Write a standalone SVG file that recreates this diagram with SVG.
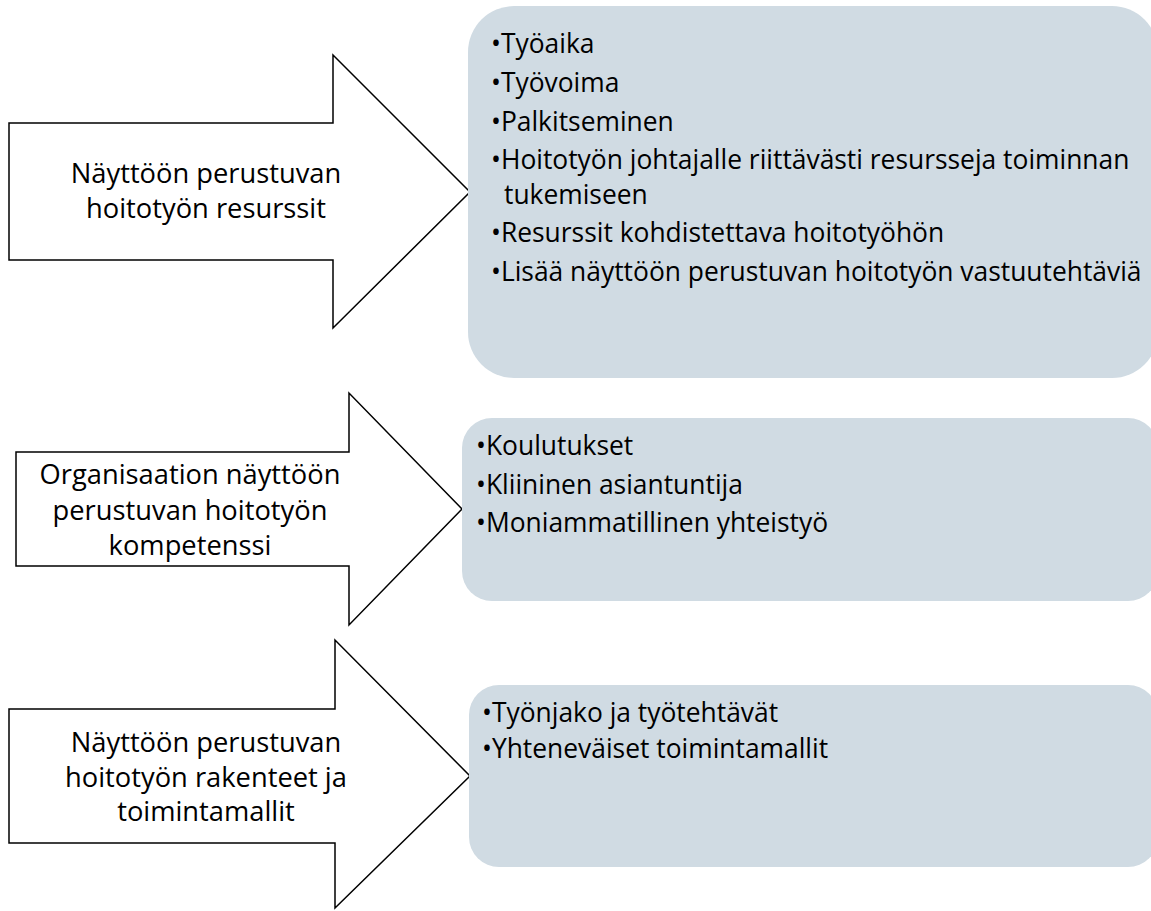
<svg xmlns="http://www.w3.org/2000/svg" width="1151" height="911" viewBox="0 0 1151 911">
<style>
.arrow{fill:#fff;stroke:#000;stroke-width:1.5;stroke-linejoin:miter}
.box{fill:#D0DBE3}
.lbl{font-family:"Open Sans","Noto Sans",sans-serif;font-size:27.3px;fill:#000;text-anchor:middle}
.item{font-family:"Open Sans","Noto Sans",sans-serif;font-size:26.4px;fill:#000}
</style>
<rect width="1151" height="911" fill="#fff"/>
<g id="connectors"></g>
<g id="arrow1">
<polygon class="arrow" points="9,123 333,123 333,55 470,192 333,328 333,260 9,260"/>
<text class="lbl" x="206" y="183">Näyttöön perustuvan</text>
<text class="lbl" x="206" y="218">hoitotyön resurssit</text>
</g>
<g id="box1">
<rect class="box" x="468" y="6" width="690" height="372" rx="46"/>
<text class="item" x="491" y="53">•Työaika</text>
<text class="item" x="491" y="92">•Työvoima</text>
<text class="item" x="491" y="130.5">•Palkitseminen</text>
<text class="item" x="491" y="169">•Hoitotyön johtajalle riittävästi resursseja toiminnan</text>
<text class="item" x="504" y="203.5">tukemiseen</text>
<text class="item" x="491" y="242">•Resurssit kohdistettava hoitotyöhön</text>
<text class="item" x="491" y="281">•Lisää näyttöön perustuvan hoitotyön vastuutehtäviä</text>
</g>
<g id="arrow2">
<polygon class="arrow" points="16,452 349,452 349,393 462,509 349,625 349,566 16,566"/>
<text class="lbl" x="190" y="484">Organisaation näyttöön</text>
<text class="lbl" x="190" y="520">perustuvan hoitotyön</text>
<text class="lbl" x="190" y="555">kompetenssi</text>
</g>
<g id="box2">
<rect class="box" x="462" y="418" width="696" height="183" rx="30"/>
<text class="item" x="476" y="455">•Koulutukset</text>
<text class="item" x="476" y="493.5">•Kliininen asiantuntija</text>
<text class="item" x="476" y="532">•Moniammatillinen yhteistyö</text>
</g>
<g id="arrow3">
<polygon class="arrow" points="9,709 335,709 335,640 470,776 335,908 335,843 9,843"/>
<text class="lbl" x="206" y="752">Näyttöön perustuvan</text>
<text class="lbl" x="206" y="787">hoitotyön rakenteet ja</text>
<text class="lbl" x="206" y="821">toimintamallit</text>
</g>
<g id="box3">
<rect class="box" x="469" y="685" width="689" height="182" rx="30"/>
<text class="item" x="482" y="722">•Työnjako ja työtehtävät</text>
<text class="item" x="482" y="758">•Yhteneväiset toimintamallit</text>
</g>
</svg>
